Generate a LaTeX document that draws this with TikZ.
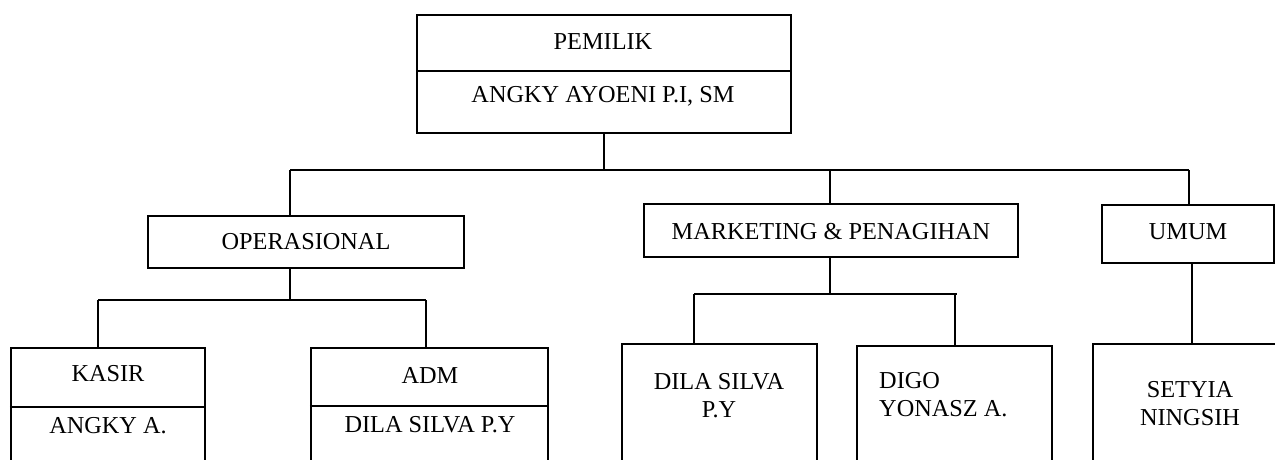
\documentclass[tikz,border=0pt]{standalone}
\usepackage{fontspec}
\setmainfont{Liberation Serif}
\usepackage{tikz}
\usetikzlibrary{positioning}

\tikzset{
  box/.style={draw, line width=2.4pt, inner sep=0pt},
  txt/.style={inner sep=0pt, font=\fontsize{24.3}{28}\selectfont},
  link/.style={line width=1.2pt},
  split/.style={line width=1.2pt}
}

\begin{document}
\begin{tikzpicture}[x=1pt, y=-1pt]
\begin{scope}
\clip (0,0) rectangle (1275,459);
% boxes
\node[box, minimum width=374pt, minimum height=118pt] (pemilik) at (604,74) {};
\node[box, minimum width=316pt, minimum height=52pt] (ops) at (306,242) {};
\node[box, minimum width=374pt, minimum height=53pt] (mkt) at (831,230.5) {};
\node[box, minimum width=172pt, minimum height=58pt] (umum) at (1188,234) {};
\node[box, minimum width=194pt, minimum height=160pt] (kasir) at (108,428) {};
\node[box, minimum width=237pt, minimum height=160pt] (adm) at (429.5,428) {};
\node[box, minimum width=195pt, minimum height=160pt] (dila) at (719.5,424) {};
\node[box, minimum width=195pt, minimum height=160pt] (digo) at (954.5,426) {};
\node[box, minimum width=194pt, minimum height=160pt] (setyia) at (1190,424) {};

% dividers
\draw[split] (pemilik.west |- 0,71) -- (pemilik.east |- 0,71);
\draw[split] (kasir.west |- 0,407) -- (kasir.east |- 0,407);
\draw[split] (adm.west |- 0,406) -- (adm.east |- 0,406);

% texts
\node[txt] (pemilikA) at (603,42) {PEMILIK};
\node[txt] (pemilikB) at (603,96) {ANGKY AYOENI P.I, SM};
\node[txt] (opsT) at (306,242) {OPERASIONAL};
\node[txt] (mktT) at (831,232) {MARKETING \& PENAGIHAN};
\node[txt] (umumT) at (1188,232) {UMUM};
\node[txt] (kasirA) at (108,374) {KASIR};
\node[txt] (kasirB) at (108,426) {ANGKY A.};
\node[txt] (admA) at (430,375) {ADM};
\node[txt] (admB) at (430,425) {DILA SILVA P.Y};
\node[txt, align=center] (dilaT) at (719,396) {DILA SILVA\\P.Y};
\node[txt, align=left, anchor=west] (digoT) at (879,394.5) {DIGO\\YONASZ A.};
\node[txt, align=center] (setyiaT) at (1190,404) {SETYIA\\NINGSIH};

% connectors
\coordinate (busL) at (290,170);
\coordinate (busR) at (1189,170);
\coordinate (opsL) at (98,300);
\coordinate (opsR) at (426,300);
\coordinate (mktL) at (694,294);
\coordinate (mktR) at (957,294);
\draw[link] (pemilik.south) -- (pemilik.south |- busL);
\draw[link] (busL) -- (busR);
\draw[link] (busL) -- (busL |- ops.north);
\draw[link] (mkt.north -| 830,0) -- (830,170);
\draw[link] (busR) -- (busR |- umum.north);

\draw[link] (ops.south -| busL) -- (busL |- opsL);
\draw[link] (opsL) -- (opsR);
\draw[link] (opsL) -- (opsL |- kasir.north);
\draw[link] (opsR) -- (opsR |- adm.north);

\draw[link] (mkt.south -| 830,0) -- (830,294);
\draw[link] (mktL) -- (mktR);
\draw[link] (mktL) -- (mktL |- dila.north);
\draw[link] (955,294) -- (955,0 |- digo.north);

\draw[link] (umum.south -| 1192,0) -- (1192,0 |- setyia.north);
\end{scope}
\pgfresetboundingbox
\useasboundingbox (0,0) rectangle (1275,459);
\end{tikzpicture}
\end{document}
